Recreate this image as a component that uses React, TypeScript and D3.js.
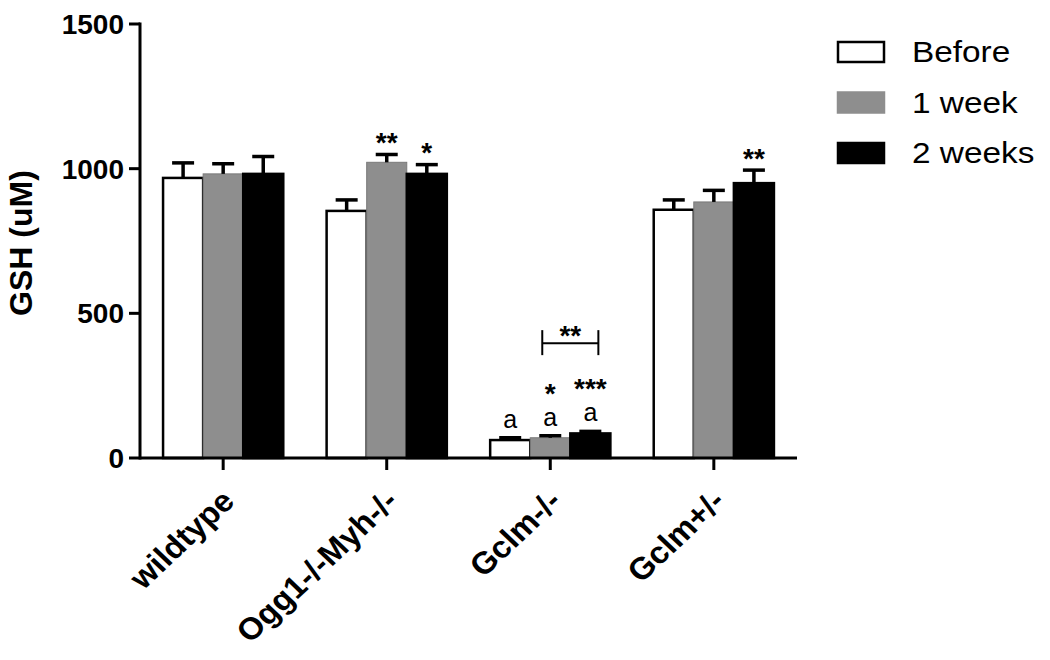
import { useEffect, useRef } from 'react'
import * as d3 from 'd3'

// groups, series and values
const groups = ['wildtype', 'Ogg1-/-Myh-/-', 'Gclm-/-', 'Gclm+/-']
const series = ['Before', '1 week', '2 weeks']
const before = [968, 854, 62, 858]
const week1 = [982, 1022, 70, 885]
const week2 = [982, 982, 85, 950]
const beforeErr = [52, 38, 8, 34]
const week1Err = [35, 27, 7, 40]
const week2Err = [60, 32, 7, 45]
const stars = [
  ['', '', ''],
  ['', '**', '*'],
  ['', '*', '***'],
  ['', '', '**'],
]
const letters = [
  ['', '', ''],
  ['', '', ''],
  ['a', 'a', 'a'],
  ['', '', ''],
]
const yTicks = [0, 500, 1000, 1500]
// bracket between 1 week and 2 weeks of Gclm-/-
const bracketGroup = 'Gclm-/-'
const bracketValue = 397
const bracketLabel = '**'

const colors = ['#ffffff', '#8e8e8e', '#000000']
const FONT = "Arial, 'Liberation Sans', Helvetica, sans-serif"

export default function App() {
  const ref = useRef<SVGSVGElement>(null)

  useEffect(() => {
    const width = 1050
    const height = 660
    const svg = d3.select(ref.current)
    svg.selectAll('*').remove()

    const values = [before, week1, week2]
    const errs = [beforeErr, week1Err, week2Err]
    const rows = groups.flatMap((g, gi) =>
      series.map((s, si) => ({
        group: g,
        gi,
        series: s,
        si,
        value: values[si][gi],
        err: errs[si][gi],
        star: stars[gi][si],
        letter: letters[gi][si],
      }))
    )

    const x0 = d3.scaleBand().domain(groups).range([140, 797]).paddingInner(0.265).paddingOuter(0.141)
    const x1 = d3.scaleBand().domain(series).range([0, x0.bandwidth()])
    const y = d3.scaleLinear().domain([0, 1500]).range([458, 24])

    // bars
    svg.append('g')
      .selectAll('rect')
      .data(rows)
      .join('rect')
      .attr('x', (d) => x0(d.group)! + x1(d.series)!)
      .attr('y', (d) => y(d.value))
      .attr('width', x1.bandwidth())
      .attr('height', (d) => y(0) - y(d.value))
      .attr('fill', (d) => colors[d.si])
      .attr('stroke', (d) => (d.si === 1 ? '#7a7a7a' : '#000'))
      .attr('stroke-width', (d) => (d.si === 1 ? 1 : 2.5))

    // error bars (upper only)
    const eb = svg.append('g').attr('stroke', '#000').attr('stroke-width', 3.5)
    rows.forEach((d) => {
      const cx = x0(d.group)! + x1(d.series)! + x1.bandwidth() / 2
      eb.append('line').attr('x1', cx).attr('x2', cx).attr('y1', y(d.value)).attr('y2', y(d.value + d.err))
      eb.append('line').attr('x1', cx - 11).attr('x2', cx + 11).attr('y1', y(d.value + d.err)).attr('y2', y(d.value + d.err))
    })

    // significance marks
    const ann = svg.append('g').attr('font-family', FONT).attr('text-anchor', 'middle').attr('fill', '#000')
    rows.forEach((d) => {
      const cx = x0(d.group)! + x1(d.series)! + x1.bandwidth() / 2
      const capY = y(d.value + d.err)
      if (d.letter) {
        ann.append('text').attr('x', cx).attr('y', capY - 10).attr('font-size', 25).text(d.letter)
      }
      if (d.star) {
        ann.append('text')
          .attr('x', cx)
          .attr('y', d.letter ? capY - 33 : capY - 2.5)
          .attr('font-size', 28)
          .attr('font-weight', 'bold')
          .text(d.star)
      }
    })

    // bracket
    const bx1 = x0(bracketGroup)! + x1('1 week')! + x1.bandwidth() * 0.3
    const bx2 = x0(bracketGroup)! + x1('2 weeks')! + x1.bandwidth() * 0.7
    const by = y(bracketValue)
    const br = svg.append('g').attr('stroke', '#000').attr('stroke-width', 2)
    br.append('line').attr('x1', bx1).attr('x2', bx2).attr('y1', by).attr('y2', by)
    br.append('line').attr('x1', bx1).attr('x2', bx1).attr('y1', by - 13).attr('y2', by + 12)
    br.append('line').attr('x1', bx2).attr('x2', bx2).attr('y1', by - 13).attr('y2', by + 12)
    ann.append('text')
      .attr('x', (bx1 + bx2) / 2)
      .attr('y', by + 2)
      .attr('font-size', 28)
      .attr('font-weight', 'bold')
      .text(bracketLabel)

    // y axis
    const ya = svg.append('g').attr('stroke', '#000').attr('stroke-width', 3)
    ya.append('line').attr('x1', 140).attr('x2', 140).attr('y1', y(1500) - 1.5).attr('y2', y(0) + 1.5)
    ya.selectAll('line.tick')
      .data(yTicks)
      .join('line')
      .attr('class', 'tick')
      .attr('x1', 129).attr('x2', 140)
      .attr('y1', (d) => y(d)).attr('y2', (d) => y(d))
    svg.append('g')
      .selectAll('text')
      .data(yTicks)
      .join('text')
      .attr('x', 124)
      .attr('y', (d) => y(d))
      .attr('dy', '0.36em')
      .attr('text-anchor', 'end')
      .attr('font-family', FONT)
      .attr('font-weight', 'bold')
      .attr('font-size', 28)
      .text((d) => d)

    svg.append('text')
      .attr('transform', `translate(32,${(y(0) + y(1500)) / 2 + 2}) rotate(-90)`)
      .attr('text-anchor', 'middle')
      .attr('font-family', FONT)
      .attr('font-weight', 'bold')
      .attr('font-size', 32)
      .text('GSH (uM)')

    // x axis
    const xa = svg.append('g').attr('stroke', '#000').attr('stroke-width', 3)
    xa.append('line').attr('x1', 140).attr('x2', 797).attr('y1', y(0)).attr('y2', y(0))
    xa.selectAll('line.tick')
      .data(groups)
      .join('line')
      .attr('class', 'tick')
      .attr('x1', (d) => x0(d)! + x0.bandwidth() / 2)
      .attr('x2', (d) => x0(d)! + x0.bandwidth() / 2)
      .attr('y1', y(0)).attr('y2', y(0) + 12)
    svg.append('g')
      .selectAll('text')
      .data(groups)
      .join('text')
      .attr('transform', (d) => `translate(${x0(d)! + x0.bandwidth() / 2 + 13},503) scale(1.06,1) rotate(-45)`)
      .attr('text-anchor', 'end')
      .attr('font-family', FONT)
      .attr('font-weight', 'bold')
      .attr('font-size', 31)
      .text((d) => d)

    // legend
    const lg = svg.append('g').attr('font-family', FONT)
    series.forEach((s, i) => {
      const base = 62 + i * 50.5
      lg.append('rect')
        .attr('x', 838).attr('y', base - 20).attr('width', 46).attr('height', 20)
        .attr('fill', colors[i])
        .attr('stroke', i === 1 ? '#8e8e8e' : '#000')
        .attr('stroke-width', 2.5)
      lg.append('text')
        .attr('transform', `translate(912,${base}) scale(1.15,1)`)
        .attr('font-size', 29)
        .text(s)
    })

    svg.attr('width', width).attr('height', height)
  }, [])

  return (
    <svg
      ref={ref}
      width={1050}
      height={660}
      style={{ position: 'absolute', left: 0, top: 0, background: '#fff' }}
    />
  )
}
